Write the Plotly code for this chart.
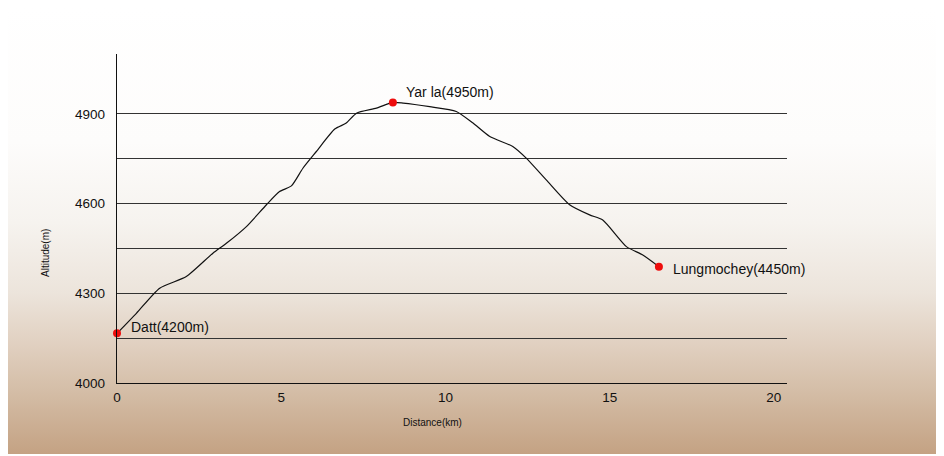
import base64
import plotly.graph_objects as go

# --- profile of the trek (distance in km, altitude in m) ---
distance_km = [0.0, 0.59, 1.30, 2.11, 2.92, 3.33, 3.94, 4.55, 4.95, 5.31, 5.66,
               6.07, 6.63, 6.98, 7.29, 7.90, 8.40, 8.71, 9.52, 10.33, 10.84,
               11.35, 12.05, 12.46, 13.07, 13.78, 14.39, 14.79, 15.51, 16.01, 16.50]
altitude_m = [4166, 4233, 4317, 4356, 4434, 4467, 4523, 4596, 4640, 4659, 4718,
              4774, 4849, 4869, 4902, 4919, 4938, 4936, 4924, 4908, 4869,
              4824, 4791, 4752, 4679, 4596, 4562, 4545, 4456, 4428, 4389]

# --- named stops ---
stop_names = ["Datt(4200m)", "Yar la(4950m)", "Lungmochey(4450m)"]
stop_km = [0.0, 8.40, 16.50]
stop_alt = [4166, 4938, 4389]

# --- axes ---
x_ticks = [0, 5, 10, 15, 20]
y_grid = [4000, 4150, 4300, 4450, 4600, 4750, 4900]
y_labels = ["4000", "", "4300", "", "4600", "", "4900"]

FONT = "Liberation Sans, Arial, sans-serif"

# background: white at the top, beige/tan at the bottom (photo of paper)
svg = """<svg xmlns='http://www.w3.org/2000/svg' width='934' height='446'>
<defs><linearGradient id='g' x1='0' y1='0' x2='0' y2='1'>
<stop offset='0' stop-color='#ffffff'/>
<stop offset='0.30' stop-color='#fdfcfb'/>
<stop offset='0.48' stop-color='#f6f3ef'/>
<stop offset='0.64' stop-color='#ece4db'/>
<stop offset='0.76' stop-color='#e0cfbf'/>
<stop offset='0.85' stop-color='#d5bfa9'/>
<stop offset='1' stop-color='#c4a283'/>
</linearGradient></defs>
<rect width='934' height='446' fill='url(#g)'/></svg>"""
bg_src = "data:image/svg+xml;base64," + base64.b64encode(svg.encode()).decode()

# the page adds an 8px body margin, so the figure is a bit smaller
W, H = 936, 448
L, T, B = 109, 46, 73
PW = 670
R = W - L - PW
PH = H - T - B

fig = go.Figure()

fig.add_trace(go.Scatter(
    x=distance_km, y=altitude_m,
    mode="lines",
    line=dict(color="#111111", width=1.2, shape="spline", smoothing=0.6),
    hoverinfo="x+y",
    showlegend=False,
))

fig.add_trace(go.Scatter(
    x=stop_km, y=stop_alt,
    mode="markers",
    marker=dict(color="#ee0d0d", size=8),
    text=stop_names,
    hoverinfo="text",
    cliponaxis=False,
    showlegend=False,
))

# labels next to the red dots
offsets = [(12, 6), (11, 10), (12, -2)]
for name, xk, ya, (dx, dy) in zip(stop_names, stop_km, stop_alt, offsets):
    fig.add_annotation(
        x=xk, y=ya, text=name, showarrow=False,
        xanchor="left", yanchor="middle", xshift=dx, yshift=dy,
        font=dict(family=FONT, size=14, color="#111111"),
    )

# axis titles (positions given in page pixels, minus the 8px body margin)
fig.add_annotation(
    x=(45 - 8 - L) / PW, y=(H - B - (253 - 8)) / PH, xref="paper", yref="paper",
    xanchor="center", yanchor="middle",
    text="Altitude(m)", textangle=-90, showarrow=False,
    font=dict(family=FONT, size=10, color="#111111"),
)
fig.add_annotation(
    x=(432 - 8 - L) / PW, y=-((422 - 8) - (H - B)) / PH, xref="paper", yref="paper",
    xanchor="center", yanchor="middle",
    text="Distance(km)", showarrow=False,
    font=dict(family=FONT, size=10, color="#111111"),
)

fig.update_layout(
    width=W, height=H,
    margin=dict(l=L, r=R, t=T, b=B),
    paper_bgcolor="white",
    plot_bgcolor="rgba(0,0,0,0)",
    font=dict(family=FONT, size=13.5, color="#111111"),
    images=[dict(
        source=bg_src, xref="paper", yref="paper",
        x=-L / PW, y=(H - B) / PH, sizex=934 / PW, sizey=446 / PH,
        xanchor="left", yanchor="top", sizing="stretch", layer="below",
    )],
    xaxis=dict(
        range=[0, 20.4], tickvals=x_ticks, showgrid=False, zeroline=False,
        showline=True, linecolor="#111111", linewidth=1.3,
        ticks="", ticklabelstandoff=2,
    ),
    yaxis=dict(
        range=[4000, 5100], tickvals=y_grid, ticktext=y_labels,
        showgrid=True, gridcolor="#333333", gridwidth=1.2, zeroline=False,
        showline=True, linecolor="#111111", linewidth=1.3,
        ticks="", ticklabelstandoff=8,
    ),
)

fig.write_html("out.html")
